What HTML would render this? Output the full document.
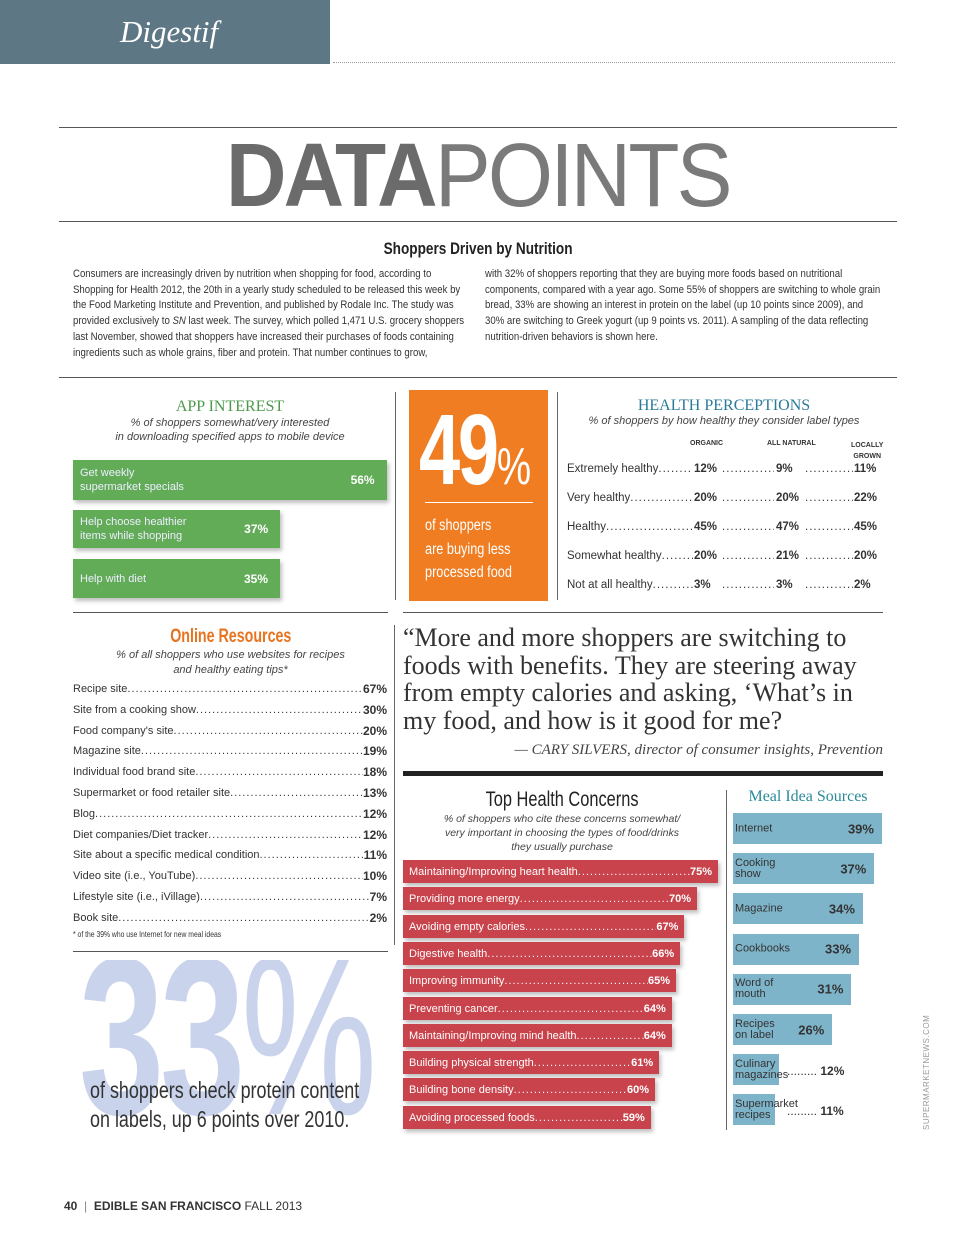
<!DOCTYPE html>
<html><head><meta charset="utf-8">
<style>
*{margin:0;padding:0;box-sizing:border-box}
body{width:960px;height:1245px;background:#fff;position:relative;font-family:"Liberation Sans",sans-serif;color:#333;overflow:hidden}
.a{position:absolute}
.sx{display:inline-block;transform:scaleX(.8);transform-origin:center}
.it{font-style:italic}
.dot{display:flex;white-space:nowrap;overflow:hidden}
.dot .f{flex:1;overflow:hidden;letter-spacing:1px}
.bar{position:absolute;box-shadow:2px 3px 4px rgba(0,0,0,.25);color:#fff;font-size:11px}
</style></head><body>
<div class="a" style="left:0;top:0;width:330px;height:64px;background:#5d7785"></div>
<div class="a it" style="left:120px;top:14px;font-family:'Liberation Serif',serif;font-size:31px;color:#fff">Digestif</div>
<div class="a" style="left:333px;top:62px;width:562px;border-top:1px dotted #999"></div>
<div class="a" style="left:59px;top:127px;width:838px;border-top:1px solid #555"></div>
<div class="a" style="left:0;top:126px;width:956px;text-align:center;font-size:90px;color:#7a7a7a;letter-spacing:-3px;line-height:100px"><span class="sx" style="transform:scaleX(.93)"><b style="color:#6b6b6b">DATA</b>POINTS</span></div>
<div class="a" style="left:59px;top:221px;width:838px;border-top:1px solid #555"></div>
<div class="a" style="left:0;top:239px;width:956px;text-align:center;font-size:17px;font-weight:bold;color:#222"><span class="sx">Shoppers Driven by Nutrition</span></div>
<div class="a" style="left:73px;top:267px;width:467px;font-size:11.2px;line-height:15.7px;color:#333;transform:scaleX(.86);transform-origin:left top">Consumers are increasingly driven by nutrition when shopping for food, according to Shopping for Health 2012, the 20th in a yearly study scheduled to be released this week by the Food Marketing Institute and Prevention, and published by Rodale Inc. The study was provided exclusively to <i>SN</i> last week. The survey, which polled 1,471 U.S. grocery shoppers last November, showed that shoppers have increased their purchases of foods containing ingredients such as whole grains, fiber and protein. That number continues to grow,</div>
<div class="a" style="left:485px;top:267px;width:465px;font-size:11.2px;line-height:15.7px;color:#333;transform:scaleX(.86);transform-origin:left top">with 32% of shoppers reporting that they are buying more foods based on nutritional components, compared with a year ago. Some 55% of shoppers are switching to whole grain bread, 33% are showing an interest in protein on the label (up 10 points since 2009), and 30% are switching to Greek yogurt (up 9 points vs. 2011). A sampling of the data reflecting nutrition-driven behaviors is shown here.</div>
<div class="a" style="left:59px;top:377px;width:838px;border-top:1px solid #555"></div>

<div class="a" style="left:73px;top:398px;width:314px;text-align:center;font-family:'Liberation Serif',serif;font-size:16px;color:#4a9a4a">APP INTEREST</div>
<div class="a it" style="left:73px;top:416px;width:314px;text-align:center;font-size:11px;line-height:14px;color:#444">% of shoppers somewhat/very interested<br>in downloading specified apps to mobile device</div>
<div id="app"></div>
<div class="a" style="left:395px;top:392px;height:208px;border-left:1px solid #666"></div>

<div class="a" style="left:409px;top:390px;width:139px;height:211px;background:#f07d22"></div>
<div class="a" style="left:419px;top:400px;color:#fff;font-size:100px;font-weight:bold;line-height:100px;letter-spacing:-3px;transform:scaleX(.74);transform-origin:left top;white-space:nowrap">49<span style="font-size:52px;font-weight:normal;letter-spacing:0">%</span></div>
<div class="a" style="left:425px;top:502px;width:108px;border-top:1px solid #fff"></div>
<div class="a" style="left:425px;top:514px;color:#fff;font-size:15.5px;line-height:23.5px;transform:scaleX(.82);transform-origin:left top;white-space:nowrap">of shoppers<br>are buying less<br>processed food</div>
<div class="a" style="left:557px;top:392px;height:208px;border-left:1px solid #666"></div>

<div class="a" style="left:565px;top:397px;width:318px;text-align:center;font-family:'Liberation Serif',serif;font-size:16px;color:#2a7a9a">HEALTH PERCEPTIONS</div>
<div class="a it" style="left:565px;top:415px;width:318px;text-align:center;font-size:11px;color:#444">% of shoppers by how healthy they consider label types</div>
<div class="a" style="left:690px;top:440px;font-size:7px;font-weight:bold">ORGANIC</div>
<div class="a" style="left:767px;top:440px;font-size:7px;font-weight:bold">ALL NATURAL</div>
<div class="a" style="left:851px;top:440px;font-size:7px;font-weight:bold;text-align:center;line-height:11px">LOCALLY<br>GROWN</div>
<div id="hp"></div>

<div class="a" style="left:73px;top:612px;width:315px;border-top:1px solid #555"></div>
<div class="a" style="left:403px;top:612px;width:480px;border-top:1px solid #555"></div>

<div class="a" style="left:73px;top:626px;width:315px;text-align:center;font-size:19px;font-weight:bold;color:#e8731f"><span class="sx" style="transform:scaleX(.75)">Online Resources</span></div>
<div class="a it" style="left:73px;top:648px;width:315px;text-align:center;font-size:11px;line-height:14.5px;color:#444">% of all shoppers who use websites for recipes<br>and healthy eating tips*</div>
<div id="or"></div>
<div class="a" style="left:73px;top:930px;font-size:8px;color:#333;transform:scaleX(.85);transform-origin:left top;white-space:nowrap">* of the 39% who use Internet for new meal ideas</div>
<div class="a" style="left:73px;top:951px;width:315px;border-top:1px solid #555"></div>
<div class="a" style="left:394px;top:625px;height:320px;border-left:1px solid #666"></div>

<div class="a" style="left:75px;top:960px;width:310px;height:175px;overflow:hidden">
<div class="a" style="left:4px;top:-36px;font-size:225px;font-weight:bold;color:#c9d3ec;line-height:225px;letter-spacing:-6px;transform:scaleX(.68);transform-origin:left top;white-space:nowrap">33<span style="font-weight:normal">%</span></div>
</div>
<div class="a" style="left:90px;top:1076px;font-size:23px;line-height:29px;color:#333;transform:scaleX(.78);transform-origin:left top;white-space:nowrap">of shoppers check protein content<br>on labels, up 6 points over 2010.</div>

<div class="a" style="left:403px;top:624px;width:465px;font-family:'Liberation Serif',serif;font-size:26px;line-height:27.7px;color:#333">“More and more shoppers are switching to foods with benefits. They are steering away from empty calories and asking, ‘What’s in my food, and how is it good for me?</div>
<div class="a it" style="left:403px;top:742px;width:480px;text-align:right;font-family:'Liberation Serif',serif;font-size:15px;color:#444">— CARY SILVERS, director of consumer insights, Prevention</div>
<div class="a" style="left:403px;top:771px;width:480px;height:5px;background:#222"></div>

<div class="a" style="left:403px;top:788px;width:318px;text-align:center;font-size:21px;color:#222"><span class="sx" style="transform:scaleX(.78)">Top Health Concerns</span></div>
<div class="a it" style="left:403px;top:812px;width:318px;text-align:center;font-size:10.5px;line-height:14px;color:#444">% of shoppers who cite these concerns somewhat/<br>very important in choosing the types of food/drinks<br>they usually purchase</div>
<div id="thc"></div>
<div class="a" style="left:726px;top:790px;height:340px;border-left:1px solid #666"></div>

<div class="a" style="left:733px;top:788px;width:150px;text-align:center;font-family:'Liberation Serif',serif;font-size:16px;color:#2a8a9a">Meal Idea Sources</div>
<div id="mis"></div>

<div class="a" style="left:922px;top:1130px;transform:rotate(-90deg);transform-origin:left top;font-size:8px;color:#999;letter-spacing:.5px">SUPERMARKETNEWS.COM</div>
<div class="a" style="left:64px;top:1199px;font-size:12px;color:#333"><b>40</b> &nbsp;<span style="color:#888">|</span>&nbsp; <b>EDIBLE SAN FRANCISCO</b> FALL 2013</div>

<script>
const appLabels=["Get weekly<br>supermarket specials","Help choose healthier<br>items while shopping","Help with diet"];
const appValues=[56,37,35];
const hpRows=["Extremely healthy","Very healthy","Healthy","Somewhat healthy","Not at all healthy"];
const hpOrganic=[12,20,45,20,3];
const hpNatural=[9,20,47,21,3];
const hpLocal=[11,22,45,20,2];
const orLabels=["Recipe site","Site from a cooking show","Food company's site","Magazine site","Individual food brand site","Supermarket or food retailer site","Blog","Diet companies/Diet tracker","Site about a specific medical condition","Video site (i.e., YouTube)","Lifestyle site (i.e., iVillage)","Book site"];
const orValues=[67,30,20,19,18,13,12,12,11,10,7,2];
const thcLabels=["Maintaining/Improving heart health","Providing more energy","Avoiding empty calories","Digestive health","Improving immunity","Preventing cancer","Maintaining/Improving mind health","Building physical strength","Building bone density","Avoiding processed foods"];
const thcValues=[75,70,67,66,65,64,64,61,60,59];
const misLabels=["Internet","Cooking<br>show","Magazine","Cookbooks","Word of<br>mouth","Recipes<br>on label","Culinary<br>magazines","Supermarket<br>recipes"];
const misValues=[39,37,34,33,31,26,12,11];

function el(html,style){const d=document.createElement('div');d.className='a';d.style.cssText=style;d.innerHTML=html;document.body.appendChild(d);return d;}
const dots='.'.repeat(200);

const appX=v=>v*5.6, appY=[460,510,559], appH=[40,38,39];
appValues.forEach((v,i)=>{
  const b=el('','');b.className='bar';
  
  
  b.style.cssText=`left:73px;top:${appY[i]}px;width:${Math.max(appX(v),207)}px;height:${appH[i]}px;background:#62ab57;`;
  b.innerHTML=`<div style="position:absolute;left:7px;top:50%;transform:translateY(-50%);line-height:14px;color:#eef">${appLabels[i]}</div><div style="position:absolute;right:12px;top:50%;transform:translateY(-50%);font-weight:bold;font-size:12px">${v}%</div>`;
});

hpRows.forEach((r,i)=>{
  const y=463+i*29;
  const d=el(`<span style="position:absolute;left:0;width:126px" class="dot"><span>${r}</span><span class="f">${dots}</span></span><b style="position:absolute;left:127px">${hpOrganic[i]}%</b><span style="position:absolute;left:155px;width:52px" class="dot"><span class="f">${dots}</span></span><b style="position:absolute;left:209px">${hpNatural[i]}%</b><span style="position:absolute;left:238px;width:48px" class="dot"><span class="f">${dots}</span></span><b style="position:absolute;left:287px">${hpLocal[i]}%</b>`,`left:567px;top:${y}px;width:320px;height:16px;font-size:11.5px;`);
  
  
});

orLabels.forEach((l,i)=>{
  const d=el(`<span>${l}</span><span class="f">${dots}</span><b style="font-size:12px">${orValues[i]}%</b>`,`left:73px;top:${681+i*20.8}px;width:314px;font-size:11px;line-height:16px;`);
  d.classList.add('dot');
  
  
});

const thcX=v=>v*4.2;
thcValues.forEach((v,i)=>{
  const b=el('','');b.className='bar';
  
  
  b.style.cssText=`left:403px;top:${860+i*27.3}px;width:${thcX(v)}px;height:23px;background:#c8434b;`;
  b.innerHTML=`<div class="dot" style="position:absolute;left:6px;right:6px;top:5px;line-height:14px"><span>${thcLabels[i]}</span><span class="f">${dots}</span><b>${v}%</b></div>`;
});

const misX=v=>v*3.82;
misValues.forEach((v,i)=>{
  const y=813+i*40.2;
  const small=v<20;
  const b=el('','');b.className='bar';
  
  
  b.style.cssText=`left:733px;top:${y}px;width:${misX(v)}px;height:31px;background:#7eb4c9;color:#333;box-shadow:none;`;
  const lab=el(`<div style="position:absolute;left:2px;top:50%;transform:translateY(-50%);line-height:11px;font-size:11px">${misLabels[i]}</div>`+
   (small?`<div style="position:absolute;left:54px;top:10px;font-size:12px">......... <b>${v}%</b></div>`:`<div style="position:absolute;right:${150-misX(v)+8}px;top:50%;transform:translateY(-50%);font-weight:bold;font-size:13px">${v}%</div>`),
   `left:733px;top:${y}px;width:150px;height:31px;color:#333;`);
  
  
});
</script>
</body></html>
